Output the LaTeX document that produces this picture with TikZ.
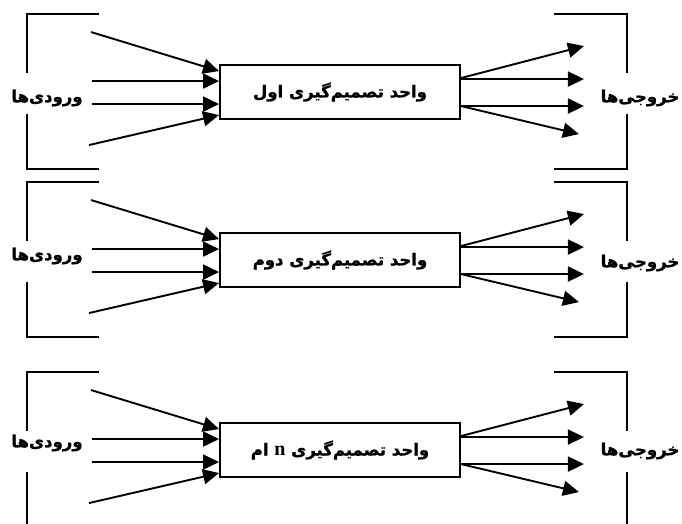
\documentclass[tikz,border=0pt]{standalone}
\usepackage{fontspec}
\newfontfamily\farsifont[Script=Arabic, BoldFeatures={FakeBold=1.2}]{DejaVu Sans}
\newfontfamily\latinfont[BoldFont={Liberation Serif Bold}]{Liberation Serif}
\TeXXeTstate=1
\usetikzlibrary{
		calc,
		positioning,
		arrows.meta
	}
\tikzset{
		>={Triangle[length=16pt,width=15pt]}
	}

\begin{document}
\begin{tikzpicture}[x=1pt, y=-1pt, line width=1.9pt,
		unitbox/.style={draw, line width=1.9pt, minimum width=240pt, minimum height=54pt, inner sep=0pt, font=\farsifont\bfseries\fontsize{16.5}{18}\selectfont},
		side/.style={inner sep=0pt, font=\farsifont\bfseries\fontsize{16.5}{18}\selectfont}]
		\useasboundingbox (0,0) rectangle (682,523);
		% the three decision units
		\node[unitbox] (u1) at (340,92) {\beginR واحد تصمیم‌گیری اول\endR};
		\node[unitbox] (u2) at (340,260) {\beginR واحد تصمیم‌گیری دوم\endR};
		\node[unitbox] (u3) at (340,450) {\beginR واحد تصمیم‌گیری {\latinfont\bfseries\fontsize{20}{22}\selectfont n} ام\endR};
		% inputs and outputs labels
		\node[side] (in1) at (47,98) {\beginR ورودی‌ها\endR};
		\node[side] (in2) at (47,256) {\beginR ورودی‌ها\endR};
		\node[side] (in3) at (47,443) {\beginR ورودی‌ها\endR};
		\node[side] (out1) at (640,98) {\beginR خروجی‌ها\endR};
		\node[side] (out2) at (640,263) {\beginR خروجی‌ها\endR};
		\node[side] (out3) at (640,451) {\beginR خروجی‌ها\endR};
		\foreach \i in {1,2,3}{
			% brackets ----> open where the label sits
			\draw ($(u\i.north west)+(-120,-50)$) -| ($(u\i.north west)+(-192,9)$);
			\draw ($(u\i.north west)+(-192,50)$) |- ($(u\i.north west)+(-120,105)$);
			\draw ($(u\i.north east)+(93,-50)$) -| ($(u\i.north east)+(166,9)$);
			\draw ($(u\i.north east)+(166,50)$) |- ($(u\i.north east)+(93,105)$);
			% inputs
			\draw[->] ($(u\i.north west)+(-128,-32)$) -- ($(u\i.north west)+(0,7)$);
			\draw[->] ($(u\i.north west)+(-127,17)$) -- ($(u\i.north west)+(0,17)$);
			\draw[->] ($(u\i.north west)+(-127,40)$) -- ($(u\i.north west)+(0,40)$);
			\draw[->] ($(u\i.north west)+(-130,81)$) -- ($(u\i.north west)+(0,51)$);
			% outputs
			\draw[->] ($(u\i.north east)+(0,14)$) -- ($(u\i.north east)+(123,-18)$);
			\draw[->] ($(u\i.north east)+(0,15)$) -- ($(u\i.north east)+(123,15)$);
			\draw[->] ($(u\i.north east)+(0,42)$) -- ($(u\i.north east)+(123,42)$);
			\draw[->] ($(u\i.north east)+(0,42)$) -- ($(u\i.north east)+(118,70)$);
		}
	\end{tikzpicture}
\end{document}
